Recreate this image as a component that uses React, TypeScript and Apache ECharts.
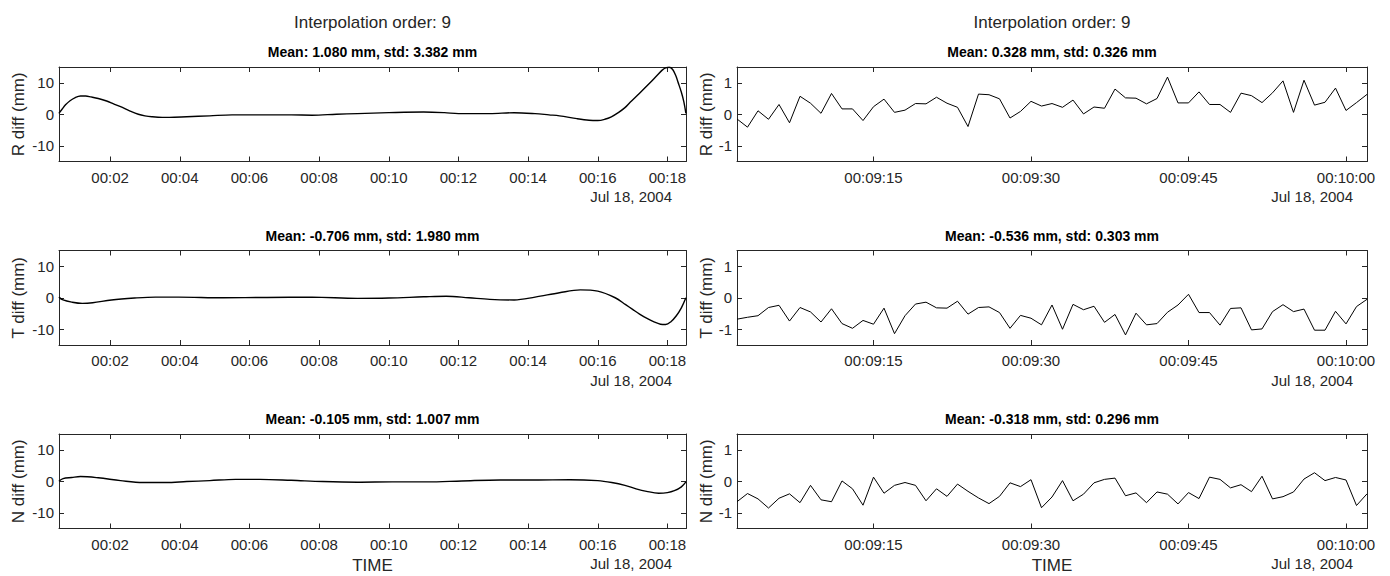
import React, { useEffect, useRef } from "react";
import * as echarts from "echarts";

// ---------------- DATA ----------------
// Left column: full pass, time in minutes after 00:00 (Jul 18, 2004)
const leftTimesR = [0.53, 0.62, 0.72, 0.85, 1.0, 1.15, 1.3, 1.45, 1.66, 1.9, 2.1, 2.3, 2.56, 2.81, 3.0, 3.2, 3.5, 3.7, 4.2, 4.86, 5.5, 6.5, 7.2, 7.8, 8.5, 9.1, 10.0, 11.0, 11.6, 12.0, 12.9, 13.6, 14.2, 14.6, 14.9, 15.4, 15.75, 16.0, 16.2, 16.39, 16.6, 16.78, 16.93, 17.2, 17.5, 17.7, 17.85, 17.95, 18.05, 18.15, 18.25, 18.3, 18.4, 18.47, 18.53];
const leftR = [0.3, 1.6, 3.0, 4.3, 5.3, 5.8, 5.8, 5.5, 5.0, 4.2, 3.3, 2.4, 1.1, 0.0, -0.5, -0.8, -1.0, -1.0, -0.8, -0.5, -0.2, -0.2, -0.2, -0.3, 0.0, 0.2, 0.5, 0.7, 0.5, 0.2, 0.2, 0.5, 0.2, -0.2, -0.5, -1.4, -1.9, -2.0, -1.6, -0.8, 0.6, 2.1, 3.8, 6.7, 10.0, 12.3, 14.0, 14.7, 14.9, 14.2, 12.0, 10.3, 7.0, 4.0, 0.3];

const leftTimesT = [0.53, 0.65, 0.9, 1.2, 1.5, 2.04, 2.7, 3.3, 3.97, 5.25, 6.5, 7.8, 9.1, 10.0, 11.0, 11.65, 12.3, 12.9, 13.6, 14.2, 14.9, 15.5, 16.0, 16.5, 16.8, 17.0, 17.2, 17.4, 17.6, 17.8, 17.95, 18.1, 18.25, 18.4, 18.53];
const leftT = [0.2, -0.7, -1.4, -1.8, -1.6, -0.7, -0.1, 0.2, 0.2, 0.0, 0.1, 0.2, -0.2, -0.1, 0.3, 0.5, 0.0, -0.5, -0.7, 0.2, 1.6, 2.5, 2.1, 0.0, -2.2, -3.7, -5.2, -6.5, -7.6, -8.4, -8.5, -7.6, -5.8, -3.2, 0.0];

const leftTimesN = [0.53, 0.65, 0.9, 1.15, 1.66, 2.3, 2.94, 3.6, 4.2, 4.86, 5.6, 6.3, 7.2, 8.1, 9.1, 10.1, 11.1, 12.1, 13.2, 14.2, 15.2, 16.0, 16.4, 16.78, 17.1, 17.4, 17.75, 18.0, 18.2, 18.4, 18.53];
const leftN = [0.0, 0.85, 1.2, 1.5, 1.1, 0.2, -0.4, -0.4, -0.1, 0.2, 0.6, 0.6, 0.3, -0.1, -0.3, -0.2, -0.2, 0.1, 0.4, 0.4, 0.5, 0.2, -0.4, -1.3, -2.4, -3.2, -3.8, -3.6, -3.0, -1.8, -0.2];

// Right column: one-minute zoom, 1 s samples starting 00:09:02
const rightStartSec = 542;
const rightR = [-0.15, -0.41, 0.11, -0.16, 0.31, -0.27, 0.57, 0.35, 0.03, 0.66, 0.17, 0.17, -0.2, 0.24, 0.48, 0.06, 0.13, 0.34, 0.33, 0.54, 0.35, 0.22, -0.39, 0.64, 0.62, 0.49, -0.12, 0.09, 0.41, 0.26, 0.34, 0.22, 0.45, 0.01, 0.23, 0.19, 0.8, 0.52, 0.51, 0.33, 0.5, 1.18, 0.36, 0.36, 0.71, 0.31, 0.31, 0.06, 0.67, 0.59, 0.37, 0.68, 1.06, 0.06, 1.08, 0.29, 0.38, 0.83, 0.12, 0.37, 0.63];
const rightT = [-0.68, -0.62, -0.57, -0.31, -0.24, -0.74, -0.31, -0.45, -0.77, -0.35, -0.82, -0.97, -0.72, -0.84, -0.33, -1.14, -0.57, -0.2, -0.14, -0.32, -0.33, -0.11, -0.52, -0.31, -0.29, -0.47, -0.97, -0.56, -0.65, -0.86, -0.23, -1.0, -0.21, -0.38, -0.27, -0.78, -0.53, -1.18, -0.49, -0.86, -0.82, -0.46, -0.23, 0.11, -0.47, -0.47, -0.87, -0.34, -0.32, -1.02, -0.99, -0.44, -0.22, -0.44, -0.36, -1.03, -1.03, -0.43, -0.83, -0.28, -0.05];
const rightN = [-0.65, -0.39, -0.56, -0.85, -0.54, -0.4, -0.68, -0.13, -0.59, -0.65, 0.01, -0.24, -0.76, 0.13, -0.38, -0.13, -0.04, -0.13, -0.62, -0.24, -0.48, -0.09, -0.32, -0.53, -0.71, -0.48, -0.05, -0.17, 0.05, -0.84, -0.5, 0.02, -0.62, -0.41, -0.05, 0.06, 0.1, -0.46, -0.37, -0.68, -0.34, -0.41, -0.72, -0.36, -0.55, 0.13, 0.06, -0.21, -0.11, -0.33, 0.16, -0.56, -0.49, -0.34, 0.07, 0.27, 0.02, 0.12, 0.04, -0.77, -0.4];

const mainTitle = "Interpolation order: 9";
const leftTitles = ["Mean: 1.080 mm, std: 3.382 mm", "Mean: -0.706 mm, std: 1.980 mm", "Mean: -0.105 mm, std: 1.007 mm"];
const rightTitles = ["Mean: 0.328 mm, std: 0.326 mm", "Mean: -0.536 mm, std: 0.303 mm", "Mean: -0.318 mm, std: 0.296 mm"];
const yNames = ["R diff (mm)", "T diff (mm)", "N diff (mm)"];
const leftXTicks = [2, 4, 6, 8, 10, 12, 14, 16, 18];
const rightXTicks = [555, 570, 585, 600];
const leftYTicks = [-10, 0, 10];
const rightYTicks = [-1, 0, 1];
const dateLabel = "Jul 18, 2004";
const xName = "TIME";

// ---------------- LAYOUT ----------------
const FONT = "'Liberation Sans', Arial, Helvetica, sans-serif";
const INK = "#262626";
const COLS = [
  { left: 59, width: 627 },
  { left: 737, width: 630 },
];
const ROW_TOPS = [67, 250.5, 434];
const ROW_H = 94.5;

const pad = (n: number) => String(n).padStart(2, "0");
const fmtMin = (v: number) => `00:${pad(Math.round(v))}`;
const fmtSec = (v: number) => {
  const s = Math.round(v);
  return `00:${pad(Math.floor(s / 60))}:${pad(s % 60)}`;
};

function buildOption() {
  const grid: any[] = [];
  const xAxis: any[] = [];
  const yAxis: any[] = [];
  const series: any[] = [];
  const graphic: any[] = [];

  const leftData = [
    [leftTimesR, leftR],
    [leftTimesT, leftT],
    [leftTimesN, leftN],
  ];
  const rightData = [rightR, rightT, rightN];

  for (let r = 0; r < 3; r++) {
    for (let c = 0; c < 2; c++) {
      const k = r * 2 + c;
      const col = COLS[c];
      const top = ROW_TOPS[r];
      grid.push({ left: col.left, top, width: col.width, height: ROW_H, containLabel: false });

      const isLeft = c === 0;
      const xMin = isLeft ? 0.533 : rightStartSec;
      const xMax = isLeft ? 18.533 : rightStartSec + 60;
      const xTicks = isLeft ? leftXTicks : rightXTicks;
      const yLim = isLeft ? 15 : 1.5;
      const yTicks = isLeft ? leftYTicks : rightYTicks;

      const lineStyle = { color: INK, width: 1 };
      xAxis.push({
        type: "value",
        gridIndex: k,
        position: "bottom",
        min: xMin,
        max: xMax,
        axisLine: { show: true, onZero: false, lineStyle },
        axisTick: { show: true, inside: true, length: 5, customValues: xTicks, lineStyle },
        axisLabel: {
          show: true,
          customValues: xTicks,
          margin: 8,
          fontSize: 15,
          fontFamily: FONT,
          color: INK,
          formatter: isLeft ? fmtMin : fmtSec,
        },
        splitLine: { show: false },
        name: r === 2 ? xName : "",
        nameLocation: "middle",
        nameGap: 28,
        nameTextStyle: { fontSize: 17, fontFamily: FONT, color: INK },
      });
      xAxis.push({
        type: "value",
        gridIndex: k,
        position: "top",
        min: xMin,
        max: xMax,
        axisLine: { show: true, onZero: false, lineStyle },
        axisTick: { show: true, inside: true, length: 5, customValues: xTicks, lineStyle },
        axisLabel: { show: false, customValues: xTicks },
        splitLine: { show: false },
      });
      yAxis.push({
        type: "value",
        gridIndex: k,
        position: "left",
        min: -yLim,
        max: yLim,
        axisLine: { show: true, onZero: false, lineStyle },
        axisTick: { show: true, inside: true, length: 5, customValues: yTicks, lineStyle },
        axisLabel: {
          show: true,
          customValues: yTicks,
          margin: 5,
          fontSize: 15,
          fontFamily: FONT,
          color: INK,
        },
        splitLine: { show: false },
        name: yNames[r],
        nameLocation: "middle",
        nameRotate: 90,
        nameGap: isLeft ? 32 : 22,
        nameTextStyle: { fontSize: 17, fontFamily: FONT, color: INK },
      });
      yAxis.push({
        type: "value",
        gridIndex: k,
        position: "right",
        min: -yLim,
        max: yLim,
        axisLine: { show: true, onZero: false, lineStyle },
        axisTick: { show: true, inside: true, length: 5, customValues: yTicks, lineStyle },
        axisLabel: { show: false, customValues: yTicks },
        splitLine: { show: false },
      });

      let data: number[][];
      if (isLeft) {
        const [ts, vs] = leftData[r];
        data = ts.map((t, i) => [t, vs[i]]);
      } else {
        data = rightData[r].map((v, i) => [rightStartSec + i, v]);
      }
      series.push({
        type: "line",
        xAxisIndex: 2 * k,
        yAxisIndex: 2 * k,
        data,
        showSymbol: false,
        smooth: isLeft ? 0.35 : false,
        lineStyle: { color: "#000", width: isLeft ? 1.4 : 1 },
        silent: true,
      });

      const cx = col.left + col.width / 2;
      graphic.push({
        type: "text",
        x: cx,
        y: top - 15,
        style: {
          text: isLeft ? leftTitles[r] : rightTitles[r],
          font: `bold 14px ${FONT}`,
          fill: "#000",
          align: "center",
          verticalAlign: "middle",
        },
      });
      graphic.push({
        type: "text",
        x: col.left + col.width - 14,
        y: top + ROW_H + 35,
        style: {
          text: dateLabel,
          font: `15px ${FONT}`,
          fill: INK,
          align: "right",
          verticalAlign: "middle",
        },
      });
      if (r === 0) {
        graphic.push({
          type: "text",
          x: cx,
          y: 22,
          style: {
            text: mainTitle,
            font: `17px ${FONT}`,
            fill: INK,
            align: "center",
            verticalAlign: "middle",
          },
        });
      }
    }
  }

  return {
    animation: false,
    backgroundColor: "#fff",
    grid,
    xAxis,
    yAxis,
    series,
    graphic,
  };
}

export default function App() {
  const ref = useRef<HTMLDivElement>(null);
  useEffect(() => {
    if (!ref.current) return;
    const chart = echarts.init(ref.current, undefined, { renderer: "svg" });
    chart.setOption(buildOption() as any);
    return () => chart.dispose();
  }, []);
  return (
    <div
      ref={ref}
      style={{ position: "fixed", left: 0, top: 0, width: 1390, height: 576, background: "#fff" }}
    />
  );
}
